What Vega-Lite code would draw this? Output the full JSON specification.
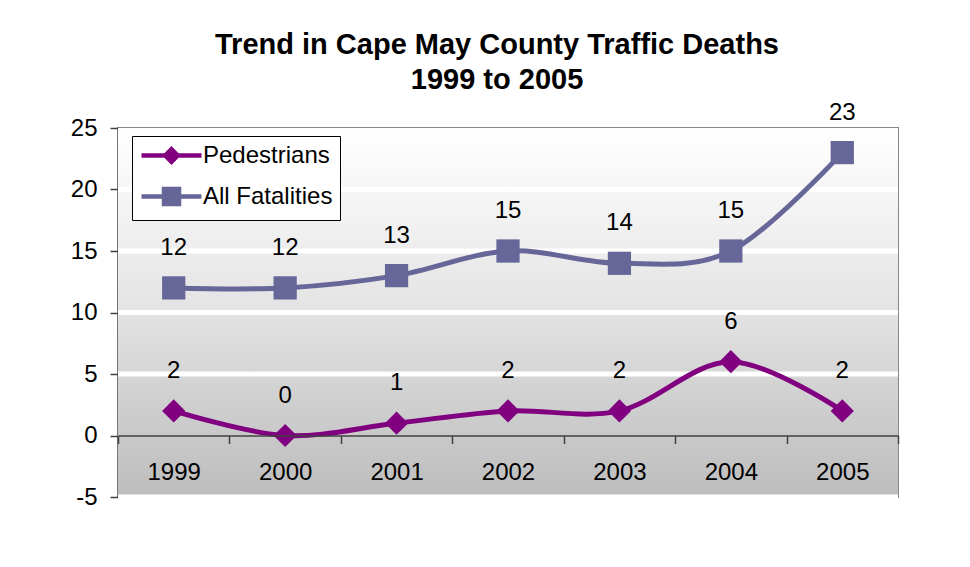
{
  "$schema": "https://vega.github.io/schema/vega-lite/v6.json",
  "width": 780,
  "height": 369,
  "autosize": {"type": "none"},
  "padding": {"left": 118, "top": 128, "right": 72, "bottom": 70},
  "background": "white",
  "title": {
    "text": ["Trend in Cape May County Traffic Deaths", "1999 to 2005"],
    "font": "Liberation Sans",
    "fontSize": 29,
    "fontWeight": "bold",
    "color": "black",
    "anchor": "middle",
    "dx": -11,
    "offset": 6,
    "lineHeight": 35
  },
  "config": {
    "font": "Liberation Sans",
    "view": {"stroke": "#888888", "strokeWidth": 2},
    "axisY": {
      "grid": false,
      "domainColor": "#404040",
      "domainWidth": 1.5,
      "tickColor": "#404040",
      "tickWidth": 1.5,
      "tickSize": 8,
      "labelFontSize": 24,
      "labelColor": "black",
      "labelPadding": 13,
      "labelFont": "Liberation Sans"
    },
    "axisX": {
      "grid": false,
      "domainColor": "#404040",
      "domainWidth": 1.5,
      "tickColor": "#404040",
      "tickWidth": 1.5,
      "tickSize": 8,
      "labelFontSize": 24,
      "labelColor": "black",
      "labelPadding": 17,
      "labelFont": "Liberation Sans"
    }
  },
  "datasets": {
    "deaths": [
      {"year": "1999", "series": "Pedestrians", "value": 2},
      {"year": "2000", "series": "Pedestrians", "value": 0},
      {"year": "2001", "series": "Pedestrians", "value": 1},
      {"year": "2002", "series": "Pedestrians", "value": 2},
      {"year": "2003", "series": "Pedestrians", "value": 2},
      {"year": "2004", "series": "Pedestrians", "value": 6},
      {"year": "2005", "series": "Pedestrians", "value": 2},
      {"year": "1999", "series": "All Fatalities", "value": 12},
      {"year": "2000", "series": "All Fatalities", "value": 12},
      {"year": "2001", "series": "All Fatalities", "value": 13},
      {"year": "2002", "series": "All Fatalities", "value": 15},
      {"year": "2003", "series": "All Fatalities", "value": 14},
      {"year": "2004", "series": "All Fatalities", "value": 15},
      {"year": "2005", "series": "All Fatalities", "value": 23}
    ],
    "grid": [{"v": 20}, {"v": 15}, {"v": 10}, {"v": 5}, {"v": -5}],
    "band": [{"top": 25, "bottom": -5}]
  },
  "layer": [
    {
      "data": {"name": "band"},
      "mark": {
        "type": "rect",
        "fill": {
          "gradient": "linear",
          "x1": 0, "y1": 0, "x2": 0, "y2": 1,
          "stops": [
            {"offset": 0, "color": "#ffffff"},
            {"offset": 0.17, "color": "#f6f6f6"},
            {"offset": 0.33, "color": "#ededed"},
            {"offset": 0.5, "color": "#e3e3e3"},
            {"offset": 0.67, "color": "#d5d5d5"},
            {"offset": 0.83, "color": "#c9c9c9"},
            {"offset": 1, "color": "#bdbdbd"}
          ]
        }
      },
      "encoding": {
        "y": {
          "field": "top",
          "type": "quantitative",
          "title": null,
          "scale": {"domain": [-5, 25], "nice": false, "zero": false},
          "axis": {"values": [-5, 0, 5, 10, 15, 20, 25], "labelExpr": "'' + datum.value"}
        },
        "y2": {"field": "bottom"}
      }
    },
    {
      "data": {"name": "grid"},
      "mark": {"type": "rule", "color": "white", "strokeWidth": 5},
      "encoding": {
        "y": {"field": "v", "type": "quantitative", "title": null}
      }
    },
    {
      "data": {"name": "deaths"},
      "encoding": {
        "x": {
          "field": "year",
          "type": "ordinal",
          "title": null,
          "scale": {"type": "band", "paddingInner": 0, "paddingOuter": 0},
          "axis": {"offset": -61.5, "tickBand": "extent", "labelAngle": 0, "zindex": 1}
        },
        "y": {"field": "value", "type": "quantitative", "title": null},
        "color": {
          "field": "series",
          "type": "nominal",
          "scale": {"domain": ["Pedestrians", "All Fatalities"], "range": ["#800080", "#666699"]},
          "legend": {
            "title": null,
            "orient": "none",
            "legendX": 14,
            "legendY": 8,
            "fillColor": "white",
            "strokeColor": "black",
            "padding": 7,
            "labelFontSize": 24,
            "labelFont": "Liberation Sans",
            "labelColor": "black",
            "symbolSize": 400,
            "symbolOffset": 20,
            "symbolStrokeWidth": 4.5,
            "labelOffset": 19,
            "rowPadding": 9,
            "zindex": 0,
            "encode": {
              "symbols": {
                "update": {
                  "shape": {"signal": "datum.value === 'Pedestrians' ? 'M-3,0H3M0,-0.62L0.62,0L0,0.62L-0.62,0Z' : 'M-3,0H3M-0.75,-0.75H0.75V0.75H-0.75Z'"},
                  "fill": {"scale": "color", "field": "value"},
                  "stroke": {"scale": "color", "field": "value"},
                  "strokeWidth": {"value": 4.5},
                  "opacity": {"value": 1}
                }
              }
            }
          }
        }
      },
      "layer": [
        {"mark": {"type": "line", "strokeWidth": 5, "interpolate": "cardinal", "tension": 0}},
        {
          "mark": {"type": "point", "filled": true, "opacity": 1, "size": 540},
          "encoding": {
            "shape": {
              "condition": {"test": "datum.series === 'Pedestrians'", "value": "diamond"},
              "value": "square"
            }
          }
        },
        {
          "mark": {"type": "text", "dy": -40, "fontSize": 24, "baseline": "middle", "font": "Liberation Sans"},
          "encoding": {
            "text": {"field": "value", "type": "quantitative"},
            "color": {"value": "black"}
          }
        }
      ]
    }
  ]
}
